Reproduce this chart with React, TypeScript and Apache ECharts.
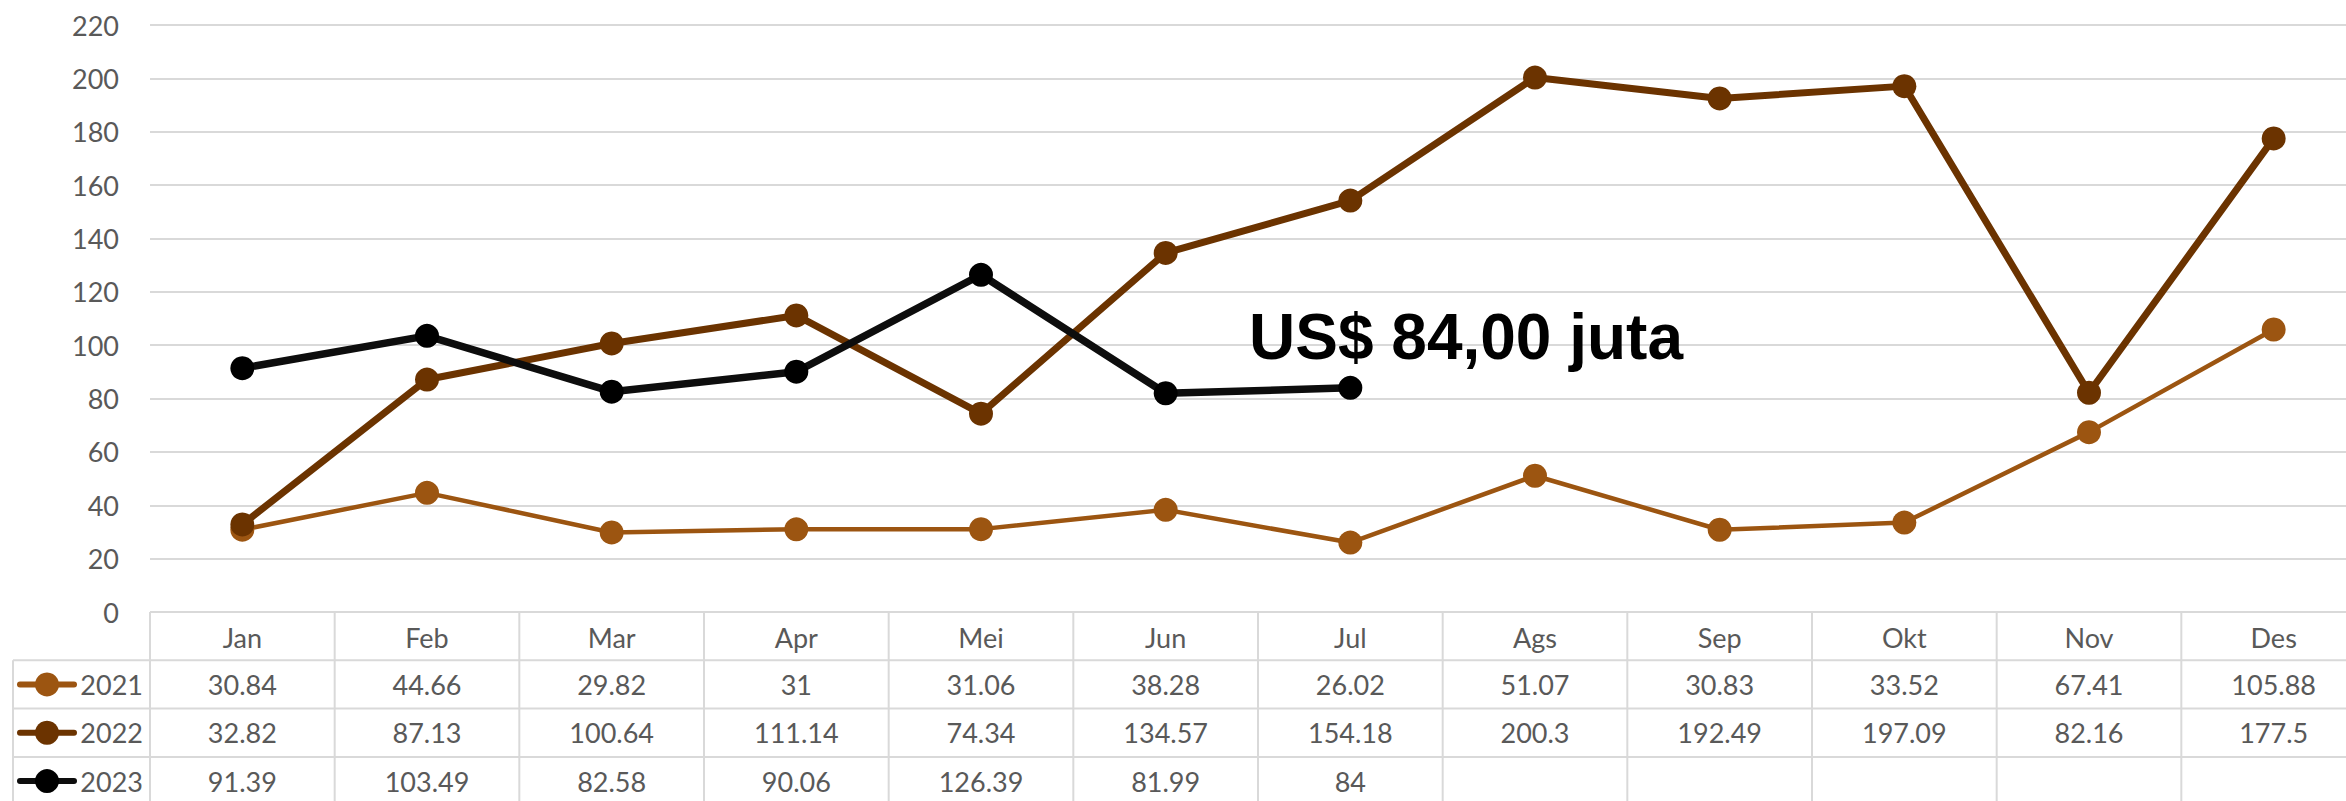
import React, { useEffect, useRef } from "react";
import * as echarts from "echarts";

const months = ["Jan", "Feb", "Mar", "Apr", "Mei", "Jun", "Jul", "Ags", "Sep", "Okt", "Nov", "Des"];
const years = ["2021", "2022", "2023"];
const v2021 = [30.84, 44.66, 29.82, 31, 31.06, 38.28, 26.02, 51.07, 30.83, 33.52, 67.41, 105.88];
const v2022 = [32.82, 87.13, 100.64, 111.14, 74.34, 134.57, 154.18, 200.3, 192.49, 197.09, 82.16, 177.5];
const v2023 = [91.39, 103.49, 82.58, 90.06, 126.39, 81.99, 84];
const yTicks = { min: 0, max: 220, interval: 20 };
const annotation = "US$ 84,00 juta";

const colors = ["#9C5511", "#6B3300", "#0D0D0D"];
const markerColors = ["#9C5511", "#6B3300", "#000000"];
const lineWidths = [4.5, 7, 7.5];

export default function App() {
  const ref = useRef<HTMLDivElement>(null);
  useEffect(() => {
    if (!ref.current) return;
    const chart = echarts.init(ref.current, null, { renderer: "svg" });
    const gridLeft = 150;
    const gridTop = 25;
    const gridW = 2216;
    const gridBottomY = 612;
    const colW = gridW / months.length;
    const rowH = 48.3;
    const textFont = "Lato, 'Noto Sans', sans-serif";
    const gray = "#595959";
    const border = "#D9D9D9";
    const fs = 27;
    const allValues = [v2021, v2022, v2023];

    const graphics: any[] = [];
    graphics.push({ type: "line", shape: { x1: gridLeft, y1: gridBottomY, x2: gridLeft + gridW, y2: gridBottomY }, style: { stroke: border, lineWidth: 2 } });
    for (let r = 1; r <= 3; r++) {
      const y = gridBottomY + r * rowH;
      graphics.push({ type: "line", shape: { x1: 13, y1: y, x2: gridLeft + gridW, y2: y }, style: { stroke: border, lineWidth: 2 } });
    }
    for (let c = 0; c <= months.length; c++) {
      const x = gridLeft + c * colW;
      graphics.push({ type: "line", shape: { x1: x, y1: gridBottomY, x2: x, y2: 801 }, style: { stroke: border, lineWidth: 2 } });
    }
    graphics.push({ type: "line", shape: { x1: 13, y1: gridBottomY + rowH, x2: 13, y2: 801 }, style: { stroke: border, lineWidth: 2 } });

    years.forEach((yr, r) => {
      const cy = gridBottomY + (r + 1) * rowH + rowH / 2;
      graphics.push({ type: "line", shape: { x1: 20, y1: cy, x2: 74, y2: cy }, style: { stroke: colors[r], lineWidth: 6, lineCap: "round" } });
      graphics.push({ type: "circle", shape: { cx: 47, cy, r: 12 }, style: { fill: markerColors[r] } });
      graphics.push({ type: "text", x: 143, y: cy, style: { text: yr, fill: gray, font: `${fs}px ${textFont}`, align: "right", verticalAlign: "middle" } });
      allValues[r].forEach((v, c) => {
        graphics.push({ type: "text", x: gridLeft + (c + 0.5) * colW, y: cy, style: { text: String(v), fill: gray, font: `${fs}px ${textFont}`, align: "center", verticalAlign: "middle" } });
      });
    });

    graphics.push({ type: "text", x: 1249, y: 337, z: 100, style: { text: annotation, fill: "#000", font: "bold 64px 'Liberation Sans', Arial, sans-serif", align: "left", verticalAlign: "middle" } });

    const mk = (name: string, data: number[], i: number) => ({
      name,
      type: "line",
      data,
      symbol: "circle",
      symbolSize: 24,
      lineStyle: { color: colors[i], width: lineWidths[i] },
      itemStyle: { color: markerColors[i] },
      z: 2 + i,
    });

    chart.setOption({
      animation: false,
      grid: { left: gridLeft, top: gridTop, width: gridW, height: gridBottomY - gridTop },
      xAxis: {
        type: "category",
        data: months,
        boundaryGap: true,
        axisLine: { show: false },
        axisTick: { show: false },
        axisLabel: { color: gray, fontSize: fs, fontFamily: textFont, margin: 12 },
      },
      yAxis: {
        type: "value",
        min: yTicks.min,
        max: yTicks.max,
        interval: yTicks.interval,
        axisLabel: { color: gray, fontSize: fs, fontFamily: textFont, margin: 31 },
        splitLine: { lineStyle: { color: border, width: 2 } },
        axisLine: { show: false },
        axisTick: { show: false },
      },
      series: [mk(years[0], v2021, 0), mk(years[1], v2022, 1), mk(years[2], v2023, 2)],
      graphic: graphics,
    });
    return () => chart.dispose();
  }, []);
  return (
    <div style={{ position: "fixed", left: 0, top: 0, width: 2346, height: 801, overflow: "hidden", background: "#fff" }}>
      <div ref={ref} style={{ width: 2400, height: 801 }} />
    </div>
  );
}
